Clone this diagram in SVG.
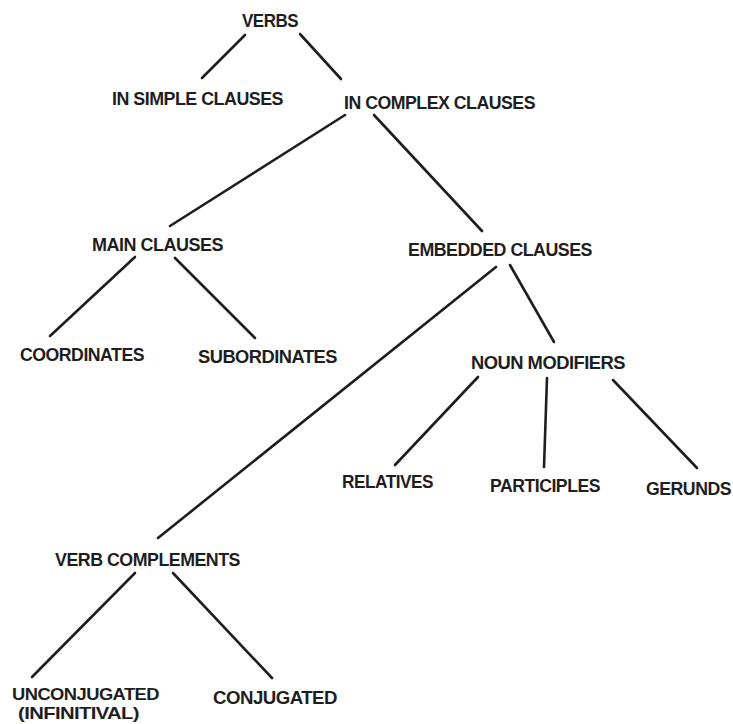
<svg xmlns="http://www.w3.org/2000/svg" width="733" height="724" viewBox="0 0 733 724">
<style>
.t{font-family:"Liberation Sans",Arial,sans-serif;font-weight:bold;font-size:18px;fill:#1e1e1e;letter-spacing:-0.5px}
.s{font-size:16.5px}
.c line{stroke:#1e1e1e;stroke-width:2.6;stroke-linecap:round}
</style>
<rect width="733" height="724" fill="#ffffff"/>
<g class="c" id="connectors">
<line x1="245" y1="35" x2="202" y2="78"/>
<line x1="300" y1="34" x2="341" y2="79"/>
<line x1="345" y1="115" x2="170" y2="226"/>
<line x1="374" y1="115" x2="482" y2="231"/>
<line x1="135" y1="257" x2="50" y2="336"/>
<line x1="175" y1="258" x2="255" y2="338"/>
<line x1="496" y1="267" x2="158" y2="538"/>
<line x1="510" y1="265" x2="554" y2="342"/>
<line x1="478" y1="377" x2="395" y2="465"/>
<line x1="547" y1="378" x2="544" y2="467"/>
<line x1="613" y1="380" x2="697" y2="468"/>
<line x1="135" y1="573" x2="32" y2="677"/>
<line x1="173" y1="573" x2="272" y2="678"/>
</g>
<g id="verbs"><text class="t" x="242" y="27" textLength="56" lengthAdjust="spacingAndGlyphs">VERBS</text></g>
<g id="simple"><text class="t" x="112" y="105" textLength="171" lengthAdjust="spacingAndGlyphs">IN SIMPLE CLAUSES</text></g>
<g id="complex"><text class="t" x="344" y="109" textLength="191" lengthAdjust="spacingAndGlyphs">IN COMPLEX CLAUSES</text></g>
<g id="main"><text class="t" x="92" y="251" textLength="131" lengthAdjust="spacingAndGlyphs">MAIN CLAUSES</text></g>
<g id="embedded"><text class="t" x="408" y="256" textLength="184" lengthAdjust="spacingAndGlyphs">EMBEDDED CLAUSES</text></g>
<g id="coordinates"><text class="t" x="20" y="361" textLength="124" lengthAdjust="spacingAndGlyphs">COORDINATES</text></g>
<g id="subordinates"><text class="t" x="198" y="363" textLength="139" lengthAdjust="spacingAndGlyphs">SUBORDINATES</text></g>
<g id="noun"><text class="t" x="471" y="369" textLength="154" lengthAdjust="spacingAndGlyphs">NOUN MODIFIERS</text></g>
<g id="relatives"><text class="t" x="342" y="488" textLength="91" lengthAdjust="spacingAndGlyphs">RELATIVES</text></g>
<g id="participles"><text class="t" x="490" y="492" textLength="110" lengthAdjust="spacingAndGlyphs">PARTICIPLES</text></g>
<g id="gerunds"><text class="t" x="646" y="495" textLength="85" lengthAdjust="spacingAndGlyphs">GERUNDS</text></g>
<g id="verbcomp"><text class="t" x="55" y="566" textLength="185" lengthAdjust="spacingAndGlyphs">VERB COMPLEMENTS</text></g>
<g id="unconj"><text class="t s" x="12" y="700" textLength="147" lengthAdjust="spacingAndGlyphs">UNCONJUGATED</text><text class="t s" x="18" y="719" textLength="121" lengthAdjust="spacingAndGlyphs">(INFINITIVAL)</text></g>
<g id="conj"><text class="t" x="213" y="704" textLength="124" lengthAdjust="spacingAndGlyphs">CONJUGATED</text></g>
</svg>
